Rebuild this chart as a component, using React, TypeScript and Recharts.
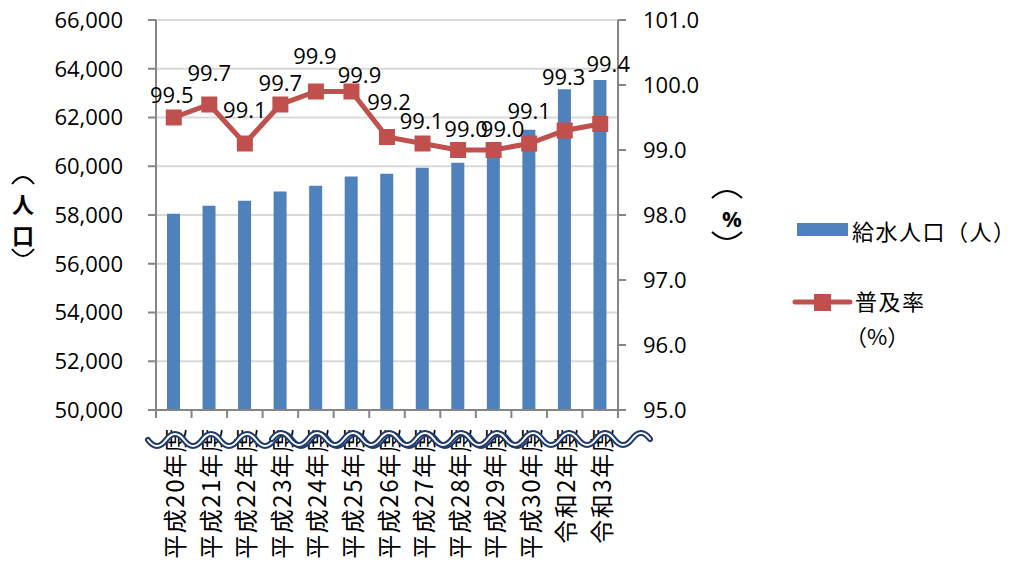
import { ComposedChart, Bar, Line, XAxis, YAxis, CartesianGrid, Legend, LabelList } from 'recharts'

// 給水人口と普及率の推移
const years = ['平成20年度', '平成21年度', '平成22年度', '平成23年度', '平成24年度', '平成25年度', '平成26年度', '平成27年度', '平成28年度', '平成29年度', '平成30年度', '令和2年度', '令和3年度']
const population = [58050, 58380, 58580, 58960, 59200, 59580, 59690, 59940, 60140, 60360, 61500, 63160, 63540]
const rate = [99.5, 99.7, 99.1, 99.7, 99.9, 99.9, 99.2, 99.1, 99.0, 99.0, 99.1, 99.3, 99.4]
const popTicks = [50000, 52000, 54000, 56000, 58000, 60000, 62000, 64000, 66000]
const rateTicks = [95, 96, 97, 98, 99, 100, 101]

// label nudges (Excel labels were moved by hand)
const labelDx = [-2, 0, 0, 0, -1, 8, 2, -1, 8, 9, 0, -1, 8]
const labelDy = [-24, -33, -35, -23, -37, -18, -36, -24, -22, -22, -34, -55, -61]

const data = years.map((y, i) => ({ year: y, population: population[i], rate: rate[i] }))

const NUM_FONT = '"Open Sans", "Noto Sans", sans-serif'
const CJK_FONT = '"Noto Sans CJK JP", "Noto Sans", sans-serif'
const BLUE = '#4F81BD'
const RED = '#C0504D'
const AXIS = '#868686'

if (typeof document !== 'undefined') document.body.style.margin = '0'

const XTick = (props: any) => {
  const { x, y, payload, index } = props
  const half = payload.offset ?? 0
  return (
    <g>
      <line x1={x - half} y1={y} x2={x - half} y2={y + 8} stroke={AXIS} strokeWidth={2} />
      {index === years.length - 1 && (
        <line x1={x + half} y1={y} x2={x + half} y2={y + 8} stroke={AXIS} strokeWidth={2} />
      )}
      <text
        transform={`translate(${x},${y + 17}) rotate(-90)`}
        textAnchor="end"
        dominantBaseline="central"
        fontFamily={CJK_FONT}
        fontSize={24}
        letterSpacing={1.5}
        fill="#000"
      >
        {payload.value}
      </text>
    </g>
  )
}

const SquareDot = (props: any) => {
  const { cx, cy } = props
  if (cx == null || cy == null) return null
  return <rect x={cx - 8} y={cy - 8} width={16} height={16} fill={RED} />
}

const RateLabel = (props: any) => {
  const { x, y, value, index } = props
  return (
    <text
      x={x + labelDx[index]}
      y={y + labelDy[index]}
      textAnchor="middle"
      dominantBaseline="central"
      fontFamily={NUM_FONT}
      fontSize={22}
      fill="#000"
    >
      {Number(value).toFixed(1)}
    </text>
  )
}

const LegendBox = () => (
  <svg width={220} height={140} style={{ overflow: 'visible' }}>
    <rect x={2} y={13} width={51} height={13} fill={BLUE} />
    <text x={57} y={20} dominantBaseline="central" fontFamily={CJK_FONT} fontSize={22} letterSpacing={1.5} fill="#000">給水人口（人）</text>
    <line x1={0} y1={92} x2={55} y2={92} stroke={RED} strokeWidth={5} strokeLinecap="round" />
    <rect x={19} y={84} width={17} height={17} fill={RED} />
    <text x={60} y={90} dominantBaseline="central" fontFamily={CJK_FONT} fontSize={22} letterSpacing={1.5} fill="#000">普及率</text>
    <text x={50} y={125} dominantBaseline="central" fontFamily={CJK_FONT} fontSize={22} fill="#000">（%）</text>
  </svg>
)

// wavy double line drawn over the category labels
const wave = (x0: number, x1: number, yc: number, amp: number, period: number, up: boolean) => {
  const step = period / 2
  let d = `M${x0},${yc}`
  let sign = up ? -1 : 1
  for (let x = x0; x < x1; x += step) {
    d += ` Q${x + step / 2},${yc + sign * amp * 2} ${x + step},${yc}`
    sign = -sign
  }
  return d
}

// vertical-form parenthesis (︵ / ︶) as a thin arc
const VParen = ({ cx, y, w, up }: { cx: number; y: number; w: number; up: boolean }) => (
  <path
    d={`M${cx - w / 2},${y} Q${cx},${y + (up ? -14 : 14)} ${cx + w / 2},${y}`}
    fill="none"
    stroke="#000"
    strokeWidth={2}
  />
)

const bold = { textAnchor: 'middle', dominantBaseline: 'central', fontWeight: 'bold', fontSize: 22, fill: '#000' } as const

export default function App() {
  const waves = [wave(148, 525, 440, 6, 36, false), wave(272, 636, 439, 6, 36, true)]
  return (
    <div style={{ position: 'relative', width: 1015, height: 569, fontFamily: NUM_FONT }}>
      <ComposedChart width={1015} height={569} data={data} margin={{ top: 20, right: 0, bottom: 0, left: 0 }}>
        <CartesianGrid yAxisId="pop" vertical={false} stroke="#D9D9D9" strokeWidth={2} />
        <XAxis
          dataKey="year"
          height={159}
          interval={0}
          tick={<XTick />}
          tickLine={false}
          tickSize={0}
          tickMargin={0}
          axisLine={{ stroke: AXIS, strokeWidth: 2 }}
        />
        <YAxis
          yAxisId="pop"
          width={156}
          domain={[50000, 66000]}
          ticks={popTicks}
          interval={0}
          tickFormatter={(v: number) => v.toLocaleString('en-US')}
          tick={{ fill: '#000', fontSize: 22, fontFamily: NUM_FONT }}
          tickSize={8}
          tickMargin={25}
          tickLine={{ stroke: AXIS, strokeWidth: 2 }}
          axisLine={{ stroke: AXIS, strokeWidth: 2 }}
        />
        <YAxis
          yAxisId="rate"
          orientation="right"
          width={397}
          domain={[95, 101]}
          ticks={rateTicks}
          interval={0}
          tickFormatter={(v: number) => v.toFixed(1)}
          tick={{ fill: '#000', fontSize: 22, fontFamily: NUM_FONT, textAnchor: 'start' }}
          tickSize={8}
          tickMargin={17}
          tickLine={{ stroke: AXIS, strokeWidth: 2 }}
          axisLine={{ stroke: AXIS, strokeWidth: 2 }}
        />
        <Bar yAxisId="pop" dataKey="population" name="給水人口（人）" fill={BLUE} barSize={13} isAnimationActive={false} />
        <Line
          yAxisId="rate"
          dataKey="rate"
          name="普及率（%）"
          stroke={RED}
          strokeWidth={5}
          dot={<SquareDot />}
          activeDot={false}
          isAnimationActive={false}
        >
          <LabelList dataKey="rate" content={<RateLabel />} />
        </Line>
        <Legend
          layout="horizontal"
          verticalAlign="middle"
          align="center"
          content={<LegendBox />}
          wrapperStyle={{ left: 795, top: 210, width: 220, height: 140 }}
        />
      </ComposedChart>
      <svg width={1015} height={569} style={{ position: 'absolute', left: 0, top: 0, pointerEvents: 'none' }}>
        {/* left axis title （人口） */}
        <VParen cx={23} y={184} w={22} up />
        <text x={23} y={203} fontFamily={CJK_FONT} {...bold}>人</text>
        <text x={23} y={234} fontFamily={CJK_FONT} {...bold}>口</text>
        <VParen cx={23} y={249} w={22} up={false} />
        {/* right axis title （%） */}
        <VParen cx={727} y={198} w={30} up />
        <text x={732} y={218} fontFamily={NUM_FONT} {...bold}>%</text>
        <VParen cx={727} y={232} w={30} up={false} />
        {waves.map((d, i) => (
          <g key={i}>
            <path d={d} fill="none" stroke="#1F3A6E" strokeWidth={6} strokeLinecap="round" />
            <path d={d} fill="none" stroke="#fff" strokeWidth={2} strokeLinecap="round" />
          </g>
        ))}
      </svg>
    </div>
  )
}
